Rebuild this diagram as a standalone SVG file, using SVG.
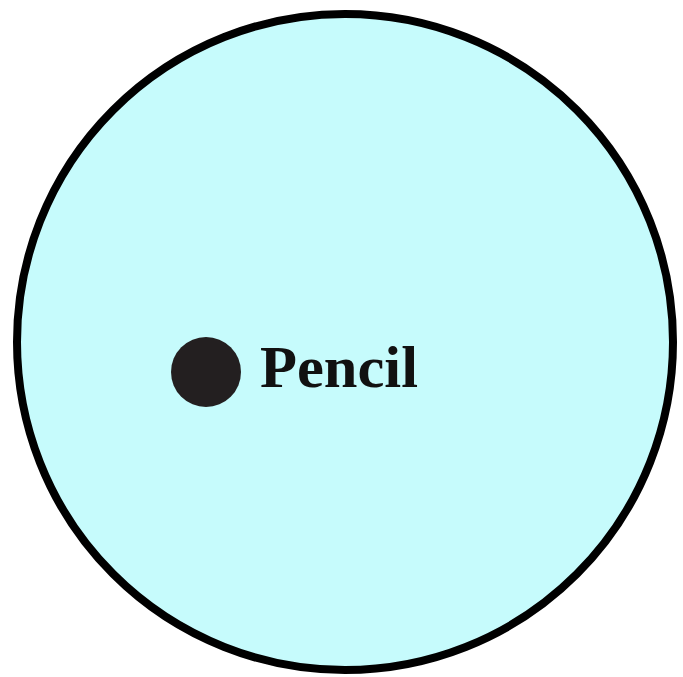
<svg xmlns="http://www.w3.org/2000/svg" width="683" height="677" viewBox="0 0 683 677">
<style>
.lbl{font-family:"Liberation Serif","DejaVu Serif",serif;font-weight:bold;font-size:60px;fill:#111}
</style>
<rect width="683" height="677" fill="#ffffff"/>
<g id="circle">
<circle cx="345" cy="342" r="328" fill="#c6fbfc" stroke="#000" stroke-width="8"/>
</g>
<g id="pencil">
<circle cx="206" cy="372" r="35" fill="#231f20"/>
<text class="lbl" x="260" y="387" textLength="158" lengthAdjust="spacingAndGlyphs">Pencil</text>
</g>
</svg>
